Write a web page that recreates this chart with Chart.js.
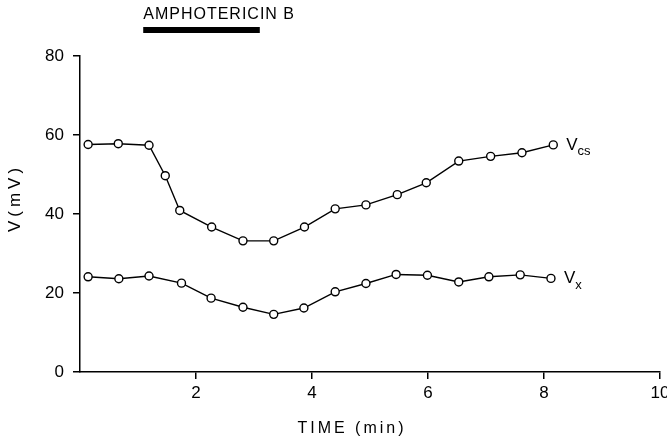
<!DOCTYPE html>
<html>
<head>
<meta charset="utf-8">
<script src="https://cdn.jsdelivr.net/npm/chart.js@4.4.1/dist/chart.umd.min.js"></script>
<style>
  body { margin: 0; background: #fff; }
  #wrap { width: 667px; height: 441px; }
</style>
</head>
<body>
<div id="wrap"><canvas id="canvas1"></canvas></div>
<script>
// time in minutes, voltages in mV
const vcsTime = [0.14, 0.66, 1.19, 1.47, 1.72, 2.27, 2.81, 3.34, 3.87, 4.40, 4.93, 5.47, 5.97, 6.53, 7.08, 7.62, 8.16];
const vcsValues = [57.6, 57.8, 57.4, 49.7, 40.9, 36.7, 33.2, 33.2, 36.7, 41.3, 42.3, 44.9, 47.9, 53.4, 54.6, 55.5, 57.5];
const vxTime = [0.14, 0.67, 1.19, 1.75, 2.26, 2.81, 3.34, 3.86, 4.40, 4.93, 5.45, 5.99, 6.53, 7.05, 7.59, 8.12];
const vxValues = [24.1, 23.6, 24.3, 22.5, 18.7, 16.4, 14.6, 16.2, 20.3, 22.4, 24.7, 24.5, 22.8, 24.1, 24.6, 23.7];
const seriesNames = [["V", "cs"], ["V", "x"]];
const xTicks = [2, 4, 6, 8, 10];
const yTicks = [0, 20, 40, 60, 80];
const xTitle = "TIME (min)";
const yTitle = "V(mV)";
const drugLabel = "AMPHOTERICIN B";
const drugPeriod = [1.09, 3.1];

const FONT = '"Liberation Sans", Arial, sans-serif';

function toPoints(xs, ys) {
  return xs.map((x, i) => ({ x: x, y: ys[i] }));
}

// black bar marking the drug period, above the plot
const drugBar = {
  id: "drugBar",
  afterDraw(chart) {
    const ctx = chart.ctx;
    const sx = chart.scales.x;
    const top = chart.chartArea.top;
    const x0 = sx.getPixelForValue(drugPeriod[0]);
    const x1 = sx.getPixelForValue(drugPeriod[1]);
    ctx.save();
    ctx.fillStyle = "#000";
    ctx.fillRect(x0, top - 29, x1 - x0, 6);
    ctx.font = "16px " + FONT;
    ctx.letterSpacing = "1px";
    ctx.textBaseline = "alphabetic";
    ctx.fillText(drugLabel, x0, top - 37);
    ctx.restore();
  }
};

// axis titles drawn by hand so they can be letter-spaced like the print
const axisTitles = {
  id: "axisTitles",
  afterDraw(chart) {
    const ctx = chart.ctx;
    const a = chart.chartArea;
    ctx.save();
    ctx.fillStyle = "#000";
    ctx.textAlign = "center";
    ctx.textBaseline = "middle";
    ctx.font = "16px " + FONT;
    ctx.letterSpacing = "3px";
    ctx.fillText(xTitle, (a.left + a.right) / 2 - 18, 429);
    ctx.font = "17px " + FONT;
    ctx.letterSpacing = "4px";
    ctx.translate(15, (a.top + a.bottom) / 2 - 16);
    ctx.rotate(-Math.PI / 2);
    ctx.fillText(yTitle, 0, 0);
    ctx.restore();
  }
};

// V_cs / V_x names next to the last point of each line
const lineNames = {
  id: "lineNames",
  afterDatasetsDraw(chart) {
    const ctx = chart.ctx;
    ctx.save();
    ctx.fillStyle = "#000";
    ctx.textBaseline = "middle";
    chart.data.datasets.forEach((ds, i) => {
      const pts = chart.getDatasetMeta(i).data;
      const last = pts[pts.length - 1];
      const x = last.x + 13;
      ctx.font = "17px " + FONT;
      ctx.fillText(seriesNames[i][0], x, last.y);
      const w = ctx.measureText(seriesNames[i][0]).width;
      ctx.font = "13px " + FONT;
      ctx.fillText(seriesNames[i][1], x + w, last.y + 7);
    });
    ctx.restore();
  }
};

const lineStyle = {
  borderColor: "#000",
  borderWidth: 1.4,
  pointRadius: 4,
  pointBorderWidth: 1.4,
  pointBackgroundColor: "#fff",
  pointBorderColor: "#000",
  showLine: true,
  tension: 0
};

window.onload = function () {
  let ctx1 = document.getElementById("canvas1").getContext("2d");
  new Chart(ctx1, {
    type: "scatter",
    data: {
      datasets: [
        Object.assign({ label: "Vcs", data: toPoints(vcsTime, vcsValues) }, lineStyle),
        Object.assign({ label: "Vx", data: toPoints(vxTime, vxValues) }, lineStyle)
      ]
    },
    options: {
      responsive: true,
      maintainAspectRatio: false,
      animation: false,
      layout: { padding: { left: 0, right: 7, top: 56, bottom: 0 } },
      plugins: {
        legend: { display: false },
        tooltip: { enabled: false }
      },
      scales: {
        x: {
          type: "linear",
          min: 0,
          max: 10,
          afterBuildTicks: (s) => { s.ticks = xTicks.map((v) => ({ value: v })); },
          afterFit: (s) => { s.height = 69; s.paddingRight = 0; s.paddingLeft = 0; },
          border: { display: true, color: "#000", width: 1.5 },
          grid: { display: true, drawOnChartArea: false, drawTicks: true, tickLength: 7, color: "#000", lineWidth: 1.5 },
          ticks: { color: "#000", font: { family: FONT, size: 17 }, padding: 4, maxRotation: 0 },
          title: { display: false }
        },
        y: {
          min: 0,
          max: 80,
          afterBuildTicks: (s) => { s.ticks = yTicks.map((v) => ({ value: v })); },
          afterFit: (s) => { s.width = 80; },
          border: { display: true, color: "#000", width: 1.5 },
          grid: { display: true, drawOnChartArea: false, drawTicks: true, tickLength: 7, color: "#000", lineWidth: 1.5 },
          ticks: { color: "#000", font: { family: FONT, size: 17 }, padding: 9 },
          title: { display: false }
        }
      }
    },
    plugins: [drugBar, axisTitles, lineNames]
  });
};
</script>
</body>
</html>
